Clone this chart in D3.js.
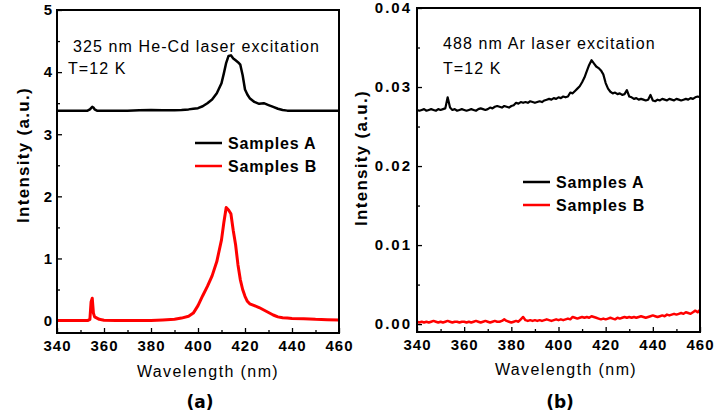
<!DOCTYPE html>
<html>
<head>
<meta charset="utf-8">
<script src="https://cdn.jsdelivr.net/npm/d3@7"></script>
<style>
  body { margin: 0; background: #fff; }
  svg { font-family: "Liberation Sans", Arial, sans-serif; }
</style>
</head>
<body>
<div id="chart"></div>
<script>
// ---- data ----
var seriesNames = ["Samples A", "Samples B"];
var seriesColors = ["#000000", "#ff0000"];

// panel (a): 325 nm He-Cd excitation
var wlLeft = [340, 345, 350, 353, 354, 354.5, 355, 355.5, 356, 357, 358, 360, 365, 370, 375, 380, 385, 390, 393, 396,
  398, 400, 402, 404, 406, 408, 410, 411, 412, 413, 414, 415, 416, 417, 418, 419, 420, 421, 422, 424,
  426, 428, 430, 432, 434, 436, 438, 440, 445, 450, 455, 460];
var leftA = [3.38, 3.38, 3.38, 3.38, 3.40, 3.42, 3.44, 3.43, 3.40, 3.38, 3.38, 3.38, 3.38, 3.38, 3.385, 3.39, 3.385, 3.385, 3.39, 3.40,
  3.41, 3.42, 3.45, 3.50, 3.56, 3.66, 3.82, 3.98, 4.15, 4.26, 4.27, 4.22, 4.19, 4.16, 4.12, 3.95, 3.72, 3.64, 3.58, 3.52,
  3.49, 3.50, 3.47, 3.44, 3.41, 3.39, 3.38, 3.38, 3.38, 3.38, 3.38, 3.38];
var leftB = [0.0, 0.0, 0.0, 0.0, 0.02, 0.30, 0.36, 0.12, 0.06, 0.04, 0.02, 0.005, 0.0, 0.0, 0.0, 0.0, 0.01, 0.02, 0.04, 0.07,
  0.12, 0.24, 0.40, 0.55, 0.72, 0.95, 1.30, 1.58, 1.82, 1.78, 1.72, 1.45, 1.22, 0.90, 0.66, 0.50, 0.39, 0.31, 0.27, 0.24,
  0.21, 0.17, 0.13, 0.09, 0.06, 0.045, 0.04, 0.035, 0.03, 0.02, 0.015, 0.01];

// panel (b): 488 nm Ar excitation, one point per nm from 340 to 460
var wlRight = d3.range(340, 461, 1);
var rightA = [
  0.0271, 0.0270, 0.0271, 0.0272, 0.0270, 0.0271, 0.0272, 0.0271, 0.0270, 0.0272,
  0.0271, 0.0272, 0.0273, 0.0287, 0.0274, 0.0271, 0.0272, 0.0270, 0.0271, 0.0272,
  0.0271, 0.0270, 0.0271, 0.0272, 0.0271, 0.0270, 0.0272, 0.0273, 0.0272, 0.0271,
  0.0272, 0.0274, 0.0273, 0.0275, 0.0276, 0.0275, 0.0274, 0.0276, 0.0275, 0.0274,
  0.0276, 0.0277, 0.0280, 0.0279, 0.0281, 0.0280, 0.0281, 0.0280, 0.0282, 0.0281,
  0.0280, 0.0281, 0.0282, 0.0281, 0.0283, 0.0284, 0.0285, 0.0284, 0.0286, 0.0285,
  0.0287, 0.0286, 0.0288, 0.0287, 0.0288, 0.0293, 0.0292, 0.0295, 0.0298, 0.0301,
  0.0306, 0.0312, 0.0320, 0.0328, 0.0334, 0.0330, 0.0326, 0.0324, 0.0321, 0.0316,
  0.0305, 0.0298, 0.0294, 0.0292, 0.0293, 0.0291, 0.0292, 0.0290, 0.0291, 0.0296,
  0.0288, 0.0287, 0.0285, 0.0286, 0.0284, 0.0285, 0.0284, 0.0283, 0.0284, 0.0290,
  0.0283, 0.0282, 0.0284, 0.0283, 0.0285, 0.0284, 0.0283, 0.0285, 0.0284, 0.0283,
  0.0285, 0.0284, 0.0283, 0.0284, 0.0285, 0.0284, 0.0286, 0.0285, 0.0287, 0.0288,
  0.0287];
var rightB = [
  0.0003, 0.0002, 0.0003, 0.0002, 0.0003, 0.0002, 0.0003, 0.0004, 0.0003, 0.0002,
  0.0003, 0.0002, 0.0003, 0.0004, 0.0003, 0.0002, 0.0003, 0.0003, 0.0002, 0.0003,
  0.0003, 0.0002, 0.0003, 0.0002, 0.0003, 0.0004, 0.0003, 0.0002, 0.0003, 0.0004,
  0.0003, 0.0002, 0.0003, 0.0004, 0.0003, 0.0003, 0.0004, 0.0006, 0.0004, 0.0003,
  0.0002, 0.0003, 0.0004, 0.0003, 0.0006, 0.0009, 0.0005, 0.0004, 0.0005, 0.0004,
  0.0005, 0.0004, 0.0005, 0.0004, 0.0005, 0.0006, 0.0005, 0.0004, 0.0005, 0.0006,
  0.0005, 0.0006, 0.0005, 0.0006, 0.0007, 0.0006, 0.0009, 0.0008, 0.0007, 0.0008,
  0.0009, 0.0008, 0.0009, 0.0008, 0.0010, 0.0009, 0.0008, 0.0007, 0.0006, 0.0007,
  0.0006, 0.0007, 0.0008, 0.0007, 0.0006, 0.0008, 0.0007, 0.0008, 0.0009, 0.0008,
  0.0009, 0.0008, 0.0009, 0.0008, 0.0009, 0.0010, 0.0009, 0.0008, 0.0009, 0.0010,
  0.0011, 0.0010, 0.0009, 0.0010, 0.0011, 0.0010, 0.0012, 0.0011, 0.0012, 0.0013,
  0.0012, 0.0013, 0.0014, 0.0013, 0.0015, 0.0014, 0.0013, 0.0015, 0.0017, 0.0015,
  0.0018];

var xTicks = [340, 360, 380, 400, 420, 440, 460];
var yTicksLeft = [0, 1, 2, 3, 4, 5];
var yTicksRight = [0, 0.01, 0.02, 0.03, 0.04];

// ---- drawing ----
var svg = d3.select("#chart").append("svg")
    .attr("width", 715)
    .attr("height", 418);

function drawPanel(cfg) {
    var x = d3.scaleLinear().domain([340, 460]).range([cfg.left, cfg.right]);
    var y = d3.scaleLinear().domain(cfg.yDomain).range([cfg.bottom, cfg.top]);
    var g = svg.append("g");

    // minor ticks (inward)
    g.append("g")
        .attr("transform", "translate(0," + cfg.bottom + ")")
        .call(d3.axisBottom(x).tickValues(d3.range(350, 460, 20)).tickSize(-3).tickFormat(""))
        .call(a => a.select(".domain").remove());
    g.append("g")
        .attr("transform", "translate(" + cfg.left + ",0)")
        .call(d3.axisLeft(y).tickValues(cfg.yMinor).tickSize(-3).tickFormat(""))
        .call(a => a.select(".domain").remove());

    // major ticks + labels
    var xa = g.append("g")
        .attr("transform", "translate(0," + cfg.bottom + ")")
        .call(d3.axisBottom(x).tickValues(xTicks).tickSize(-5).tickPadding(7));
    xa.select(".domain").remove();
    xa.selectAll("text").attr("font-size", 15).attr("font-weight", "bold").attr("fill", "#000")
        .attr("letter-spacing", 1)
        .attr("font-family", "Liberation Sans, Arial, sans-serif");

    var ya = g.append("g")
        .attr("transform", "translate(" + cfg.left + ",0)")
        .call(d3.axisLeft(y).tickValues(cfg.yTicks).tickSize(-5).tickPadding(5).tickFormat(cfg.fmt));
    ya.select(".domain").remove();
    ya.selectAll("text").attr("font-size", 15).attr("font-weight", "bold").attr("fill", "#000")
        .attr("letter-spacing", cfg.yLabelSpacing)
        .attr("font-family", "Liberation Sans, Arial, sans-serif");

    g.selectAll(".tick line").attr("stroke", "#000").attr("stroke-width", 1.3);

    // lines
    var line = d3.line().x(d => x(d[0])).y(d => y(d[1]));
    cfg.series.forEach(function (s, i) {
        g.append("path")
            .datum(cfg.wl.map((w, j) => [w, s[j]]))
            .attr("d", line)
            .attr("fill", "none")
            .attr("stroke", seriesColors[i])
            .attr("stroke-width", cfg.lw[i])
            .attr("stroke-linejoin", "round");
    });

    // frame
    g.append("rect")
        .attr("x", cfg.left).attr("y", cfg.top)
        .attr("width", cfg.right - cfg.left).attr("height", cfg.bottom - cfg.top)
        .attr("fill", "none").attr("stroke", "#000").attr("stroke-width", 2);

    // annotation
    g.append("text").attr("x", cfg.note[0]).attr("y", cfg.note[1])
        .attr("font-size", 16).attr("letter-spacing", 1.1).text(cfg.noteText);
    g.append("text").attr("x", cfg.note2[0]).attr("y", cfg.note2[1])
        .attr("font-size", 16).attr("letter-spacing", 1.1).text("T=12 K");

    // legend
    seriesNames.forEach(function (n, i) {
        var ly = cfg.legend[1] + i * cfg.legendGap;
        g.append("line")
            .attr("x1", cfg.legend[0]).attr("x2", cfg.legend[0] + 27)
            .attr("y1", ly).attr("y2", ly)
            .attr("stroke", seriesColors[i]).attr("stroke-width", 2.5);
        g.append("text")
            .attr("x", cfg.legend[0] + 33).attr("y", ly + 6)
            .attr("font-size", 16).attr("font-weight", "bold").attr("letter-spacing", 0.8)
            .text(n);
    });

    // axis titles
    g.append("text")
        .attr("x", cfg.xTitle[0]).attr("y", cfg.xTitle[1])
        .attr("text-anchor", "middle").attr("font-size", 16).attr("letter-spacing", 1.4)
        .text("Wavelength (nm)");
    g.append("text")
        .attr("transform", "translate(" + cfg.yTitle[0] + "," + cfg.yTitle[1] + ") rotate(-90)")
        .attr("text-anchor", "middle").attr("font-size", 17).attr("font-weight", "bold")
        .attr("letter-spacing", 1.3)
        .text("Intensity (a.u.)");
    g.append("text")
        .attr("x", cfg.tag[0]).attr("y", cfg.tag[1])
        .attr("text-anchor", "middle").attr("font-size", 17).attr("font-weight", "bold")
        .attr("font-family", "DejaVu Sans, sans-serif")
        .text(cfg.tagText);
}

drawPanel({
    left: 57, right: 339, top: 10, bottom: 333,
    yDomain: [-0.2, 5], yTicks: yTicksLeft, yMinor: d3.range(0.5, 5, 1), fmt: d3.format("d"), yLabelSpacing: 0,
    wl: wlLeft, series: [leftA, leftB], lw: [2.5, 3],
    note: [73, 52], noteText: "325 nm He-Cd laser excitation", note2: [68, 74],
    legend: [195, 143], legendGap: 23,
    xTitle: [208, 377], yTitle: [29, 155], tag: [200, 408], tagText: "(a)"
});

drawPanel({
    left: 417, right: 700, top: 8, bottom: 332,
    yDomain: [-0.001, 0.04], yTicks: yTicksRight, yMinor: d3.range(0.005, 0.04, 0.01), fmt: d3.format(".2f"), yLabelSpacing: 2,
    wl: wlRight, series: [rightA, rightB], lw: [2.2, 2.5],
    note: [443, 49], noteText: "488 nm Ar laser excitation", note2: [443, 74],
    legend: [523, 182], legendGap: 23,
    xTitle: [566, 375], yTitle: [367, 158], tag: [560, 408], tagText: "(b)"
});
</script>
</body>
</html>
